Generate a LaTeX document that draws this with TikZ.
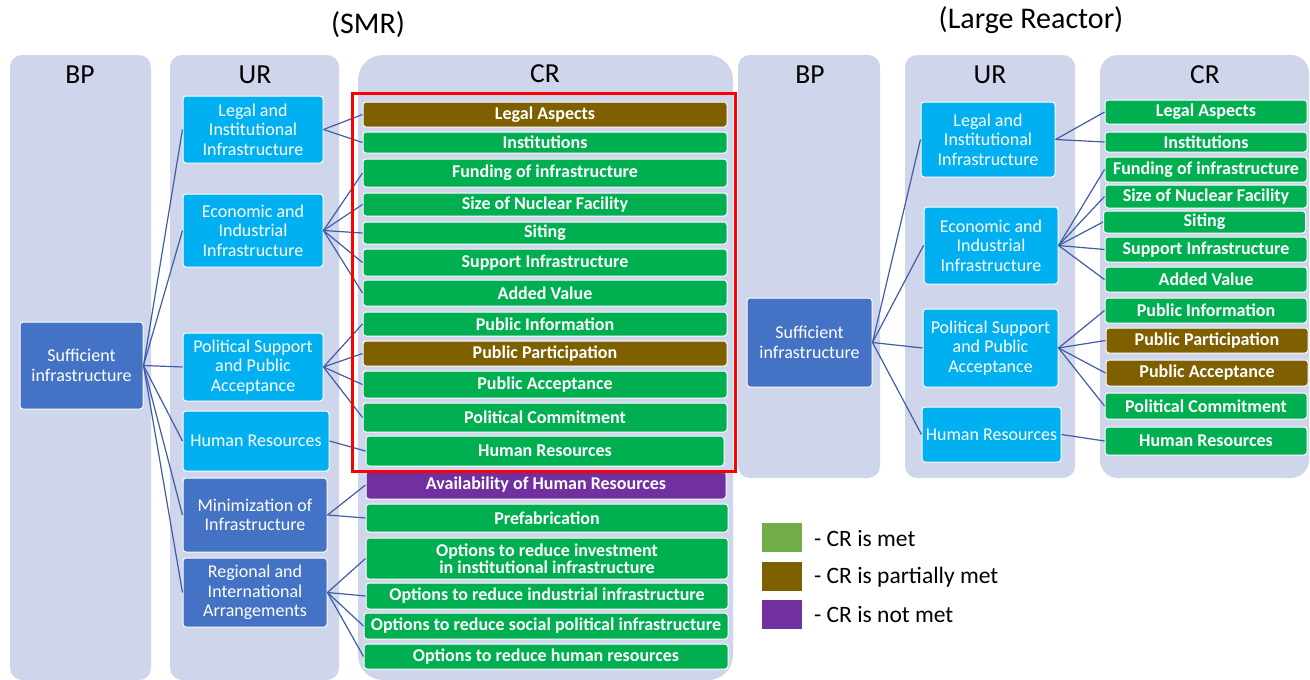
\documentclass[tikz,border=0pt]{standalone}
\usepackage{fontspec}
\setmainfont{Carlito}
\definecolor{colbg}{HTML}{CFD5EA}
\definecolor{cyanb}{HTML}{00B0F0}
\definecolor{darkb}{HTML}{4472C4}
\definecolor{grn}{HTML}{00B050}
\definecolor{brn}{HTML}{7F6000}
\definecolor{prp}{HTML}{7030A0}
\definecolor{lgrn}{HTML}{70AD47}
\definecolor{linec}{HTML}{3F5EA8}
\begin{document}
\begin{tikzpicture}[x=1pt,y=-1pt,
  colbox/.style={fill=colbg, draw=none, rounded corners=12},
  bx/.style={rounded corners=3, draw=white, line width=1, inner sep=0, align=center, text=white},
  ur/.style={bx, fill=cyanb, font=\fontsize{18}{19.5}\selectfont},
  urd/.style={bx, fill=darkb, font=\fontsize{18}{19.5}\selectfont},
  cr/.style={bx, fill=grn, font=\bfseries\fontsize{18}{18}\selectfont},
  crb/.style={cr, fill=brn},
  crp/.style={cr, fill=prp},
  conn/.style={draw=linec, line width=1.2},
  hdr/.style={font=\fontsize{27.5}{27.5}\selectfont, text=black},
  ttl/.style={font=\fontsize{30}{30}\selectfont, text=black},
  legsq/.style={draw=none, minimum width=40, minimum height=29, inner sep=0},
  legtx/.style={anchor=west, font=\fontsize{23.5}{23.5}\selectfont, inner sep=0}
]
\useasboundingbox (0,0) rectangle (1310,680);
\fill[white] (0,0) rectangle (1310,680);

% columns
\draw[colbox] (10,55) rectangle (151,680);
\draw[colbox] (170,55) rectangle (339,680);
\draw[colbox, rounded corners=25] (358,55) rectangle (733,680);
\draw[colbox] (738,55) rectangle (880,478);
\draw[colbox] (905,55) rectangle (1075,478);
\draw[colbox, rounded corners=18] (1100,55) rectangle (1309,478);

% titles and headers
\node[ttl] (tsmr) at (368,25) {(SMR)};
\node[ttl] (tlr) at (1031,20) {(Large Reactor)};
\node[hdr] (h1) at (80,75) {BP};
\node[hdr] (h2) at (255,75) {UR};
\node[hdr] (h3) at (545,74) {CR};
\node[hdr] (h4) at (810,75) {BP};
\node[hdr] (h5) at (990,75) {UR};
\node[hdr] (h6) at (1205,75) {CR};

% SMR nodes
\node[urd, minimum width=123, minimum height=87] (s0) at (81.5,365.5) {Sufficient\\infrastructure};
\node[ur, minimum width=140, minimum height=67] (u1) at (253,129.5) {Legal and\\Institutional\\Infrastructure};
\node[ur, minimum width=140, minimum height=73] (u2) at (253,230.5) {Economic and\\Industrial\\Infrastructure};
\node[ur, minimum width=140, minimum height=68] (u3) at (253,367) {Political Support\\and Public\\Acceptance};
\node[ur, minimum width=146, minimum height=60] (u4) at (256,441) {Human Resources};
\node[urd, minimum width=144, minimum height=74] (u5) at (255,515) {Minimization of\\Infrastructure};
\node[urd, minimum width=144, minimum height=69] (u6) at (255,592.5) {Regional and\\International\\Arrangements};

\node[crb, minimum width=364, minimum height=25] (c1) at (545,114.5) {Legal Aspects};
\node[cr, minimum width=364, minimum height=21] (c2) at (545,142.5) {Institutions};
\node[cr, minimum width=364, minimum height=28] (c3) at (545,173) {Funding of infrastructure};
\node[cr, minimum width=364, minimum height=23] (c4) at (545,204.5) {Size of Nuclear Facility};
\node[cr, minimum width=364, minimum height=22] (c5) at (545,233) {Siting};
\node[cr, minimum width=364, minimum height=27] (c6) at (545,262.5) {Support Infrastructure};
\node[cr, minimum width=364, minimum height=26] (c7) at (545,293) {Added Value};
\node[cr, minimum width=364, minimum height=24] (c8) at (545,324) {Public Information};
\node[crb, minimum width=364, minimum height=25] (c9) at (545,353.5) {Public Participation};
\node[cr, minimum width=364, minimum height=27] (c10) at (545,384.5) {Public Acceptance};
\node[cr, minimum width=364, minimum height=29] (c11) at (545,417.5) {Political Commitment};
\node[cr, minimum width=358, minimum height=30] (c12) at (545,451) {Human Resources};
\node[crp, minimum width=360, minimum height=28] (c13) at (546,485) {Availability of Human Resources};
\node[cr, minimum width=362, minimum height=28] (c14) at (547,518) {Prefabrication};
\node[cr, minimum width=362, minimum height=41, font=\bfseries\fontsize{18}{17.5}\selectfont] (c15) at (547,558.5) {Options to reduce investment\\in institutional infrastructure};
\node[cr, minimum width=362, minimum height=26] (c16) at (547,596) {Options to reduce industrial infrastructure};
\node[cr, minimum width=364, minimum height=26] (c17) at (546,626) {Options to reduce social political infrastructure};
\node[cr, minimum width=364, minimum height=25] (c18) at (546,656.5) {Options to reduce human resources};

% Large reactor nodes
\node[urd, minimum width=125, minimum height=89] (l0) at (809.5,342.5) {Sufficient\\infrastructure};
\node[ur, minimum width=134, minimum height=75] (v1) at (988,139.5) {Legal and\\Institutional\\Infrastructure};
\node[ur, minimum width=134, minimum height=77] (v2) at (991,245.5) {Economic and\\Industrial\\Infrastructure};
\node[ur, minimum width=135, minimum height=78] (v3) at (990.5,348) {Political Support\\and Public\\Acceptance};
\node[ur, minimum width=139, minimum height=55] (v4) at (991.5,434.5) {Human Resources};

\node[cr, minimum width=202, minimum height=24] (d1) at (1206,112) {Legal Aspects};
\node[cr, minimum width=202, minimum height=20] (d2) at (1206,142) {Institutions};
\node[cr, minimum width=202, minimum height=25] (d3) at (1206,169.5) {Funding of infrastructure};
\node[cr, minimum width=202, minimum height=23] (d4) at (1206,196.5) {Size of Nuclear Facility};
\node[cr, minimum width=202, minimum height=22] (d5) at (1204.5,222) {Siting};
\node[cr, minimum width=202, minimum height=25] (d6) at (1206,249.5) {Support Infrastructure};
\node[cr, minimum width=202, minimum height=25] (d7) at (1206,279.5) {Added Value};
\node[cr, minimum width=202, minimum height=25] (d8) at (1206,310.5) {Public Information};
\node[crb, minimum width=202, minimum height=25] (d9) at (1207,340.5) {Public Participation};
\node[crb, minimum width=202, minimum height=26] (d10) at (1207,373) {Public Acceptance};
\node[cr, minimum width=202, minimum height=26] (d11) at (1206,406) {Political Commitment};
\node[cr, minimum width=202, minimum height=28] (d12) at (1206,441) {Human Resources};

% SMR connectors
\foreach \t in {u1,u2,u3,u4,u5,u6} \draw[conn] (s0.east) -- (\t.west);
\foreach \t in {c1,c2} \draw[conn] (u1.east) -- (\t.west);
\foreach \t in {c3,c4,c5,c6,c7} \draw[conn] (u2.east) -- (\t.west);
\foreach \t in {c8,c9,c10,c11} \draw[conn] (u3.east) -- (\t.west);
\draw[conn] (u4.east) -- (c12.west);
\foreach \t in {c13,c14} \draw[conn] (u5.east) -- (\t.west);
\foreach \t in {c15,c16,c17,c18} \draw[conn] (u6.east) -- (\t.west);

% Large connectors
\foreach \t in {v1,v2,v3,v4} \draw[conn] (l0.east) -- (\t.west);
\foreach \t in {d1,d2} \draw[conn] (v1.east) -- (\t.west);
\foreach \t in {d3,d4,d5,d6,d7} \draw[conn] (v2.east) -- (\t.west);
\foreach \t in {d8,d9,d10,d11} \draw[conn] (v3.east) -- (\t.west);
\draw[conn] (v4.east) -- (d12.west);

% red frame
\draw[red, line width=3] (352,93) rectangle (735,471);

% legend
\node[legsq, fill=lgrn] (g1) at (782,537.5) {};
\node[legsq, fill=brn] (g2) at (782,576.5) {};
\node[legsq, fill=prp] (g3) at (782,614.5) {};
\node[legtx] (t1) at (814,538) {- CR is met};
\node[legtx] (t2) at (814,577) {- CR is partially met};
\node[legtx] (t3) at (814,614) {- CR is not met};
\end{tikzpicture}
\end{document}
